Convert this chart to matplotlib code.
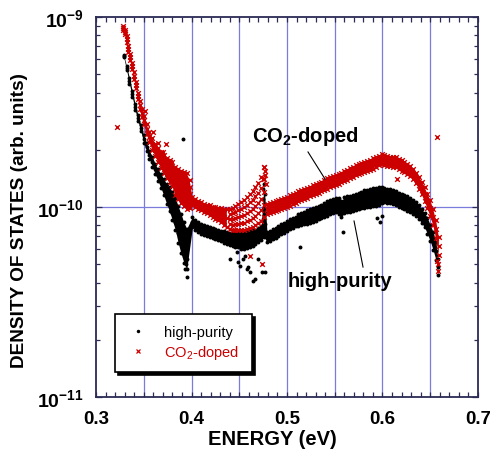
import matplotlib
matplotlib.use("Agg")
import matplotlib.pyplot as plt
from matplotlib.lines import Line2D
from matplotlib.ticker import MultipleLocator, FixedLocator, LogLocator, NullFormatter

plt.rcParams['font.family'] = ['Liberation Sans', 'DejaVu Sans']
plt.rcParams['mathtext.fontset'] = 'custom'
plt.rcParams['mathtext.rm'] = 'Liberation Sans'
plt.rcParams['mathtext.it'] = 'Liberation Sans:italic'
plt.rcParams['mathtext.bf'] = 'Liberation Sans:bold'

UNIT = 1e-10  # values below are in units of 1e-10 (arb. units)

# ---------------- high-purity (black dots) ----------------
hp_energy = [
    0.329, 0.332, 0.335, 0.338, 0.341, 0.344, 0.347, 0.350, 0.353, 0.356, 0.359, 0.362,
    0.365, 0.368, 0.371, 0.374, 0.377, 0.380, 0.383, 0.386, 0.389, 0.392, 0.395,
    0.401, 0.404, 0.407, 0.410, 0.413, 0.416, 0.419, 0.422, 0.425, 0.428, 0.431, 0.434,
    0.437, 0.440, 0.443, 0.446, 0.449, 0.452, 0.455, 0.458, 0.461, 0.464, 0.467, 0.470,
    0.473, 0.476,
    0.479, 0.482, 0.485, 0.488, 0.491, 0.494, 0.497, 0.500, 0.503, 0.506,
    0.509, 0.512, 0.515, 0.518, 0.521, 0.524, 0.527, 0.530, 0.533, 0.536,
    0.539, 0.542, 0.545, 0.548, 0.551, 0.554, 0.557, 0.560, 0.563, 0.566,
    0.569, 0.572, 0.575, 0.578, 0.581, 0.584, 0.587, 0.590, 0.593, 0.596,
    0.599, 0.602, 0.605, 0.608, 0.611, 0.614, 0.617, 0.620, 0.623, 0.626,
    0.629, 0.632, 0.635, 0.638, 0.641, 0.644, 0.647, 0.650, 0.653, 0.656, 0.658]
hp_low = [
    6.15, 5.26, 4.45, 3.79, 3.24, 2.83, 2.51, 2.17, 1.97, 1.79, 1.63, 1.49,
    1.37, 1.26, 1.15, 1.04, 0.95, 0.85, 0.76, 0.65, 0.57, 0.51, 0.47,
    0.785, 0.757, 0.739, 0.721, 0.712, 0.704, 0.695, 0.687, 0.678, 0.670, 0.662, 0.646,
    0.638, 0.631, 0.623, 0.616, 0.616, 0.601, 0.601, 0.608, 0.616, 0.623, 0.638, 0.654,
    0.670, 0.695,
    0.654, 0.666, 0.678, 0.687, 0.704, 0.717, 0.730, 0.748, 0.762, 0.776,
    0.790, 0.795, 0.804, 0.814, 0.814, 0.824, 0.834, 0.844, 0.860, 0.870,
    0.886, 0.902, 0.919, 0.930, 0.941, 0.919, 0.886, 0.930, 0.941, 0.941,
    0.953, 0.964, 0.976, 0.988, 0.988, 0.994, 1.000, 1.012, 1.018, 1.024,
    1.050, 1.062, 1.056, 1.050, 1.037, 1.024, 1.006, 0.988, 0.976, 0.958,
    0.941, 0.924, 0.897, 0.865, 0.824, 0.785, 0.721, 0.662, 0.594, 0.526, 0.439]
hp_mid = [
    6.23, 5.39, 4.61, 3.93, 3.36, 2.94, 2.60, 2.28, 2.07, 1.88, 1.73, 1.585,
    1.47, 1.37, 1.27, 1.17, 1.10, 1.01, 0.92, 0.81, 0.72, 0.65, 0.60,
    0.834, 0.804, 0.785, 0.766, 0.757, 0.748, 0.739, 0.730, 0.721, 0.712, 0.704, 0.695,
    0.687, 0.678, 0.678, 0.670, 0.670, 0.662, 0.662, 0.670, 0.678, 0.687, 0.695, 0.712,
    0.730, 0.953,
    0.695, 0.708, 0.721, 0.730, 0.748, 0.762, 0.776, 0.795, 0.809, 0.824,
    0.839, 0.854, 0.865, 0.876, 0.886, 0.897, 0.908, 0.919, 0.936, 0.947,
    0.964, 0.982, 1.000, 1.012, 1.024, 1.012, 0.976, 1.024, 1.037, 1.037,
    1.050, 1.062, 1.075, 1.088, 1.102, 1.108, 1.115, 1.129, 1.136, 1.143,
    1.157, 1.157, 1.150, 1.143, 1.129, 1.115, 1.095, 1.075, 1.062, 1.043,
    1.024, 1.006, 0.976, 0.941, 0.897, 0.854, 0.795, 0.730, 0.662, 0.587, 0.483]
hp_high = [
    6.30, 5.52, 4.78, 4.08, 3.48, 3.05, 2.70, 2.39, 2.17, 1.97, 1.84, 1.68,
    1.58, 1.49, 1.40, 1.32, 1.27, 1.20, 1.12, 1.01, 0.92, 0.83, 0.77,
    0.886, 0.855, 0.834, 0.814, 0.804, 0.795, 0.785, 0.776, 0.766, 0.757, 0.748, 0.748,
    0.739, 0.730, 0.739, 0.730, 0.730, 0.730, 0.730, 0.739, 0.748, 0.757, 0.757, 0.776,
    0.795, 1.320,
    0.739, 0.752, 0.766, 0.776, 0.795, 0.809, 0.824, 0.844, 0.860, 0.876,
    0.891, 0.919, 0.930, 0.941, 0.964, 0.976, 0.988, 1.000, 1.018, 1.030,
    1.050, 1.069, 1.088, 1.101, 1.115, 1.115, 1.075, 1.129, 1.143, 1.143,
    1.157, 1.171, 1.185, 1.199, 1.229, 1.236, 1.244, 1.259, 1.266, 1.274,
    1.274, 1.259, 1.251, 1.244, 1.229, 1.214, 1.192, 1.171, 1.157, 1.136,
    1.115, 1.095, 1.062, 1.024, 0.976, 0.930, 0.876, 0.804, 0.739, 0.654, 0.532]
# scattered high-purity points (wide parts, spike, stragglers)
hp_extra_energy = [
    0.377, 0.377, 0.380, 0.380, 0.383, 0.383, 0.386, 0.386, 0.389, 0.389, 0.392, 0.392,
    0.395, 0.395, 0.394, 0.3955, 0.393, 0.391,
    0.475, 0.475, 0.475, 0.475, 0.475, 0.477, 0.477, 0.477, 0.477, 0.477,
    0.4487, 0.4539, 0.4592, 0.4613, 0.4665, 0.4696, 0.4738, 0.4770, 0.4644, 0.4581,
    0.4476, 0.4508, 0.4403, 0.4560,
    0.5136, 0.5586, 0.5974, 0.594, 0.600]
hp_extra_dos = [
    1.185, 1.024, 1.102, 0.930, 1.012, 0.834, 0.908, 0.730, 0.814, 0.638, 0.739, 0.580,
    0.678, 0.532, 0.501, 0.428, 0.472, 2.28,
    1.244, 1.102, 0.976, 0.865, 0.766, 1.322, 1.171, 1.037, 0.930, 0.814,
    0.513, 0.532, 0.483, 0.455, 0.418, 0.532, 0.455, 0.455, 0.408, 0.472,
    0.579, 0.489, 0.532, 0.552,
    0.616, 0.739, 0.834, 0.870, 0.900]

# ---------------- CO2-doped (red crosses) ----------------
co2_energy = [
    0.328, 0.330, 0.332, 0.334, 0.336, 0.338, 0.340, 0.342, 0.344, 0.346, 0.348, 0.350,
    0.353, 0.356, 0.359, 0.362, 0.365, 0.368, 0.371, 0.374, 0.377, 0.380, 0.383, 0.386,
    0.389, 0.392, 0.395, 0.398,
    0.401, 0.404, 0.407, 0.410, 0.413, 0.416, 0.419, 0.422, 0.425, 0.428, 0.431, 0.434,
    0.437, 0.440, 0.443, 0.446, 0.449, 0.452, 0.455, 0.458, 0.461, 0.464, 0.467, 0.470,
    0.473, 0.476,
    0.479, 0.482, 0.485, 0.488, 0.491, 0.494, 0.497, 0.500, 0.503, 0.506,
    0.509, 0.512, 0.515, 0.518, 0.521, 0.524, 0.527, 0.530, 0.533, 0.536,
    0.539, 0.542, 0.545, 0.548, 0.551, 0.554, 0.557, 0.560, 0.563, 0.566,
    0.569, 0.572, 0.575, 0.578, 0.581, 0.584, 0.587, 0.590, 0.593, 0.596,
    0.599, 0.602, 0.605, 0.608, 0.611, 0.614, 0.617, 0.620, 0.623, 0.626,
    0.629, 0.632, 0.635, 0.638, 0.641, 0.644, 0.647, 0.650, 0.653, 0.656, 0.659]
co2_low = [
    8.54, 8.14, 7.39, 6.54, 5.94, 5.32, 4.72, 4.23, 3.70, 3.28, 2.98, 2.73,
    2.42, 2.20, 2.00, 1.855, 1.725, 1.604, 1.510, 1.421, 1.354, 1.290, 1.157, 1.102,
    1.050, 1.012, 0.976, 0.988,
    1.024, 1.000, 0.976, 0.964, 0.941, 0.930, 0.908, 0.886, 0.865, 0.854, 0.834, 0.804,
    0.785, 0.766, 0.757, 0.757, 0.757, 0.757, 0.757, 0.766, 0.776, 0.785, 0.804, 0.824,
    0.844, 0.886,
    0.919, 0.930, 0.941, 0.953, 0.964, 0.976, 0.988, 1.000, 1.018, 1.037,
    1.050, 1.069, 1.088, 1.102, 1.115, 1.136, 1.157, 1.171, 1.185, 1.207,
    1.229, 1.251, 1.274, 1.290, 1.306, 1.322, 1.346, 1.370, 1.395, 1.421,
    1.438, 1.465, 1.492, 1.510, 1.528, 1.547, 1.566, 1.594, 1.624, 1.654,
    1.684, 1.664, 1.644, 1.634, 1.624, 1.614, 1.585, 1.556, 1.528, 1.492,
    1.456, 1.404, 1.338, 1.244, 1.171, 1.075, 0.988, 0.897, 0.804, 0.687, 0.559]
co2_mid = [
    8.75, 8.34, 7.66, 6.79, 6.16, 5.52, 4.89, 4.39, 3.84, 3.44, 3.12, 2.87,
    2.57, 2.34, 2.15, 2.00, 1.878, 1.767, 1.684, 1.604, 1.547, 1.492, 1.370, 1.322,
    1.274, 1.244, 1.214, 1.171,
    1.075, 1.050, 1.024, 1.012, 0.988, 0.976, 0.964, 0.941, 0.930, 0.919, 0.908, 0.886,
    0.876, 0.865, 0.865, 0.876, 0.886, 0.897, 0.908, 0.930, 0.953, 0.976, 1.012, 1.050,
    1.102, 1.199,
    0.976, 0.988, 1.000, 1.012, 1.024, 1.037, 1.050, 1.062, 1.082, 1.102,
    1.115, 1.136, 1.157, 1.171, 1.185, 1.207, 1.229, 1.244, 1.259, 1.282,
    1.306, 1.330, 1.354, 1.370, 1.387, 1.404, 1.430, 1.456, 1.483, 1.510,
    1.528, 1.556, 1.585, 1.604, 1.624, 1.644, 1.664, 1.694, 1.725, 1.757,
    1.789, 1.767, 1.746, 1.735, 1.725, 1.715, 1.684, 1.654, 1.624, 1.585,
    1.547, 1.492, 1.421, 1.338, 1.259, 1.171, 1.075, 0.988, 0.886, 0.766, 0.623]
co2_high = [
    8.97, 8.54, 7.94, 7.04, 6.39, 5.73, 5.13, 4.55, 3.98, 3.61, 3.28, 3.01,
    2.73, 2.48, 2.31, 2.15, 2.04, 1.948, 1.878, 1.811, 1.767, 1.725, 1.624, 1.585,
    1.547, 1.528, 1.510, 1.387,
    1.129, 1.102, 1.075, 1.062, 1.037, 1.024, 1.024, 1.000, 1.000, 0.988, 0.988, 0.976,
    0.976, 0.976, 0.988, 1.012, 1.037, 1.062, 1.088, 1.129, 1.171, 1.214, 1.274, 1.338,
    1.438, 1.624,
    1.037, 1.050, 1.062, 1.075, 1.088, 1.102, 1.115, 1.129, 1.150, 1.171,
    1.185, 1.207, 1.229, 1.244, 1.259, 1.282, 1.306, 1.322, 1.338, 1.362,
    1.387, 1.413, 1.438, 1.456, 1.474, 1.492, 1.519, 1.547, 1.575, 1.604,
    1.624, 1.654, 1.684, 1.704, 1.725, 1.746, 1.767, 1.800, 1.833, 1.866,
    1.900, 1.878, 1.855, 1.844, 1.833, 1.822, 1.789, 1.757, 1.725, 1.684,
    1.644, 1.585, 1.510, 1.438, 1.354, 1.274, 1.171, 1.088, 0.976, 0.854, 0.695]
co2_extra_energy = [
    0.374, 0.374, 0.377, 0.377, 0.380, 0.380, 0.383, 0.383, 0.386, 0.386, 0.389, 0.389,
    0.392, 0.392, 0.395, 0.395, 0.398, 0.398,
    0.440, 0.440, 0.443, 0.443, 0.446, 0.446, 0.449, 0.449, 0.452, 0.452, 0.455, 0.455,
    0.458, 0.458, 0.461, 0.461, 0.464, 0.464, 0.467, 0.467, 0.470, 0.470, 0.473, 0.473,
    0.476, 0.476,
    0.4755, 0.4765, 0.477, 0.4745, 0.4775,
    0.322, 0.657, 0.615, 0.3513, 0.3593, 0.3652, 0.3733, 0.3705, 0.3775, 0.4613, 0.4735,
    0.658, 0.6585, 0.657]
co2_extra_dos = [
    1.704, 1.510, 1.664, 1.438, 1.604, 1.387, 1.492, 1.259, 1.456, 1.199, 1.404, 1.157,
    1.370, 1.129, 1.354, 1.088, 1.274, 1.075,
    0.919, 0.814, 0.930, 0.804, 0.941, 0.814, 0.964, 0.814, 0.976, 0.824, 1.000, 0.824,
    1.024, 0.844, 1.062, 0.854, 1.088, 0.876, 1.143, 0.897, 1.185, 0.930, 1.259, 0.964,
    1.404, 1.024,
    1.624, 1.547, 1.474, 1.404, 1.322,
    2.65, 2.34, 1.40, 3.20, 2.49, 2.17, 2.15, 1.95, 1.72, 0.554, 0.501,
    0.46, 0.50, 0.52]

RED = '#cc0000'
FRAME = '#2b2b55'
GRID = '#7b7bdc'

fig = plt.figure(figsize=(4.9, 4.56), dpi=100)
ax = fig.add_axes([96 / 490, 1 - 398 / 456, 382 / 490, 380 / 456])
ax.set_yscale('log')
ax.set_xlim(0.3, 0.7)
ax.set_ylim(1e-11, 1e-9)

for gx in [0.35, 0.40, 0.45, 0.50, 0.55, 0.60, 0.65]:
    ax.axvline(gx, color=GRID, lw=0.9, zorder=0.5)
ax.axhline(1e-10, color=GRID, lw=0.9, zorder=0.5)

# dense scatter bands: body between the read lower/upper edges, plus the points
ax.fill_between(hp_energy, [v * UNIT for v in hp_low], [v * UNIT for v in hp_high],
                color='black', lw=0, zorder=1.9)
hp_kw = dict(s=8, c='black', marker='o', linewidths=0, zorder=2)
for arr in (hp_low, hp_mid, hp_high):
    ax.scatter(hp_energy, [v * UNIT for v in arr], **hp_kw)
ax.scatter(hp_extra_energy, [v * UNIT for v in hp_extra_dos], **hp_kw)

# the noisy 0.44-0.476 eV stretch of the doped sample is left as loose crosses
co2_dense = [e < 0.438 or e > 0.4775 for e in co2_energy]
ax.fill_between(co2_energy, [v * UNIT for v in co2_low], [v * UNIT for v in co2_high],
                where=co2_dense, color=RED, lw=0, zorder=2.9)
co2_kw = dict(s=11, c=RED, marker='x', linewidths=1.0, zorder=3)
for arr in (co2_low, co2_mid, co2_high):
    ax.scatter(co2_energy, [v * UNIT for v in arr], **co2_kw)
ax.scatter(co2_extra_energy, [v * UNIT for v in co2_extra_dos], **co2_kw)

# ticks
ax.xaxis.set_major_locator(FixedLocator([0.3, 0.4, 0.5, 0.6, 0.7]))
ax.xaxis.set_minor_locator(MultipleLocator(0.01))
ax.set_xticklabels(['0.3', '0.4', '0.5', '0.6', '0.7'], fontsize=13.5, fontweight='bold')
ax.yaxis.set_major_locator(FixedLocator([1e-11, 1e-10, 1e-9]))
ax.yaxis.set_minor_locator(LogLocator(base=10, subs=[2, 3, 4, 5, 6, 7, 8, 9]))
ax.yaxis.set_minor_formatter(NullFormatter())
ax.set_yticklabels([r'$\mathbf{10^{-11}}$', r'$\mathbf{10^{-10}}$', r'$\mathbf{10^{-9}}$'],
                   fontsize=14)
ax.tick_params(axis='both', which='both', direction='in', top=True, right=True,
               color=FRAME, width=0.9)
ax.tick_params(axis='x', which='both', length=3.5, pad=9)
ax.tick_params(axis='y', which='major', length=4, pad=9)
ax.tick_params(axis='y', which='minor', length=3)
for sp in ax.spines.values():
    sp.set_color(FRAME)
    sp.set_linewidth(1.3)

ax.set_xlabel('ENERGY (eV)', fontsize=14.5, fontweight='bold')
ax.xaxis.set_label_coords(0.462, -0.083)
ax.set_ylabel('DENSITY OF STATES (arb. units)', fontsize=13.7, fontweight='bold')
ax.yaxis.set_label_coords(-0.178, 0.468)

# annotations
ax.text(0.4634, 2.225e-10, r'CO$_\mathbf{2}$-doped', fontsize=14.5, fontweight='bold',
        ha='left', va='baseline', zorder=5)
ax.plot([0.522, 0.5398], [1.948e-10, 1.404e-10], color='black', lw=0.8, zorder=5)
ax.text(0.501, 3.85e-11, 'high-purity', fontsize=14.5, fontweight='bold',
        ha='left', va='baseline', zorder=5)
ax.plot([0.5702, 0.5796], [8.44e-11, 4.83e-11], color='black', lw=0.8, zorder=5)

# legend
handles = [Line2D([], [], ls='', marker='o', ms=2.5, color='black', mew=0),
           Line2D([], [], ls='', marker='x', ms=3, color=RED, mew=0.9)]
leg = ax.legend(handles, ['high-purity', r'CO$_2$-doped'], loc='lower left',
                bbox_to_anchor=(0.0497, 0.0658, 0.3586, 0.134), mode='expand',
                borderaxespad=0, fontsize=10.5, frameon=True, fancybox=False,
                shadow={'color': 'black', 'alpha': 1.0}, handlelength=1.6,
                handletextpad=1.0, borderpad=0.75, labelspacing=0.25)
leg.get_frame().set_edgecolor('black')
leg.get_frame().set_linewidth(1.2)
leg.get_texts()[1].set_color(RED)
leg.set_zorder(6)

fig.savefig('out.png', dpi=100)
